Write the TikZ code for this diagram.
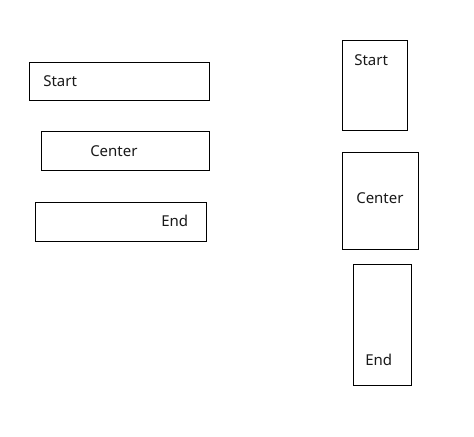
\documentclass[tikz,border=0pt]{standalone}
\usepackage{fontspec}
\setmainfont{Noto Sans}
\begin{document}
\begin{tikzpicture}[x=0.75pt,y=-0.75pt,
  boxstyle/.style={draw=black,line width=0.75pt,rectangle,inner sep=0pt,fill=none},
  lbl/.style={inner sep=0pt,font=\fontsize{11.25pt}{13pt}\selectfont,text=black!90}]
\useasboundingbox (0,0) rectangle (474,436);
% left column
\node[boxstyle,minimum width=180*0.75pt,minimum height=38*0.75pt] (b1) at (119,81) {};
\node[lbl,anchor=base west] (t1) at (43,86) {Start};
\node[boxstyle,minimum width=168*0.75pt,minimum height=39*0.75pt] (b2) at (125,150.5) {};
\node[lbl,anchor=base west] (t2) at (90,156) {Center};
\node[boxstyle,minimum width=171*0.75pt,minimum height=39*0.75pt] (b3) at (120.5,221.5) {};
\node[lbl,anchor=base west] (t3) at (161,226) {End};
% right column
\node[boxstyle,minimum width=65*0.75pt,minimum height=90*0.75pt] (b4) at (374.5,85) {};
\node[lbl,anchor=base west] (t4) at (354,65) {Start};
\node[boxstyle,minimum width=76*0.75pt,minimum height=97*0.75pt] (b5) at (380,200.5) {};
\node[lbl,anchor=base west] (t5) at (356,203) {Center};
\node[boxstyle,minimum width=58*0.75pt,minimum height=121*0.75pt] (b6) at (382,324.5) {};
\node[lbl,anchor=base west] (t6) at (365,365) {End};
\end{tikzpicture}
\end{document}
